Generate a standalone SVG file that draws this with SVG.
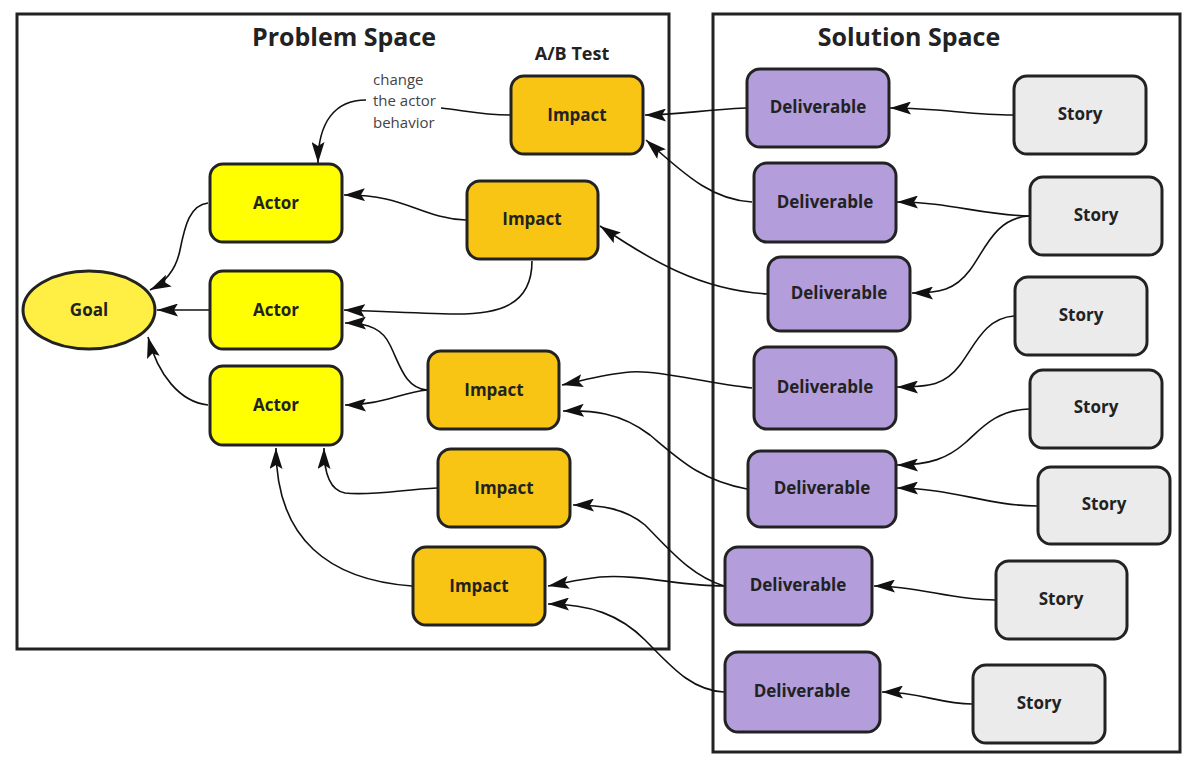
<svg xmlns="http://www.w3.org/2000/svg" width="1200" height="775" viewBox="0 0 1200 775">
<defs>
<style>
.frame{fill:none;stroke:#222;stroke-width:3}
.title{font-family:"Open Sans","Noto Sans","Liberation Sans",sans-serif;font-weight:700;fill:#222;text-anchor:middle}
.node rect,.node ellipse{stroke:#222;stroke-width:3}
.node text{font-family:"Open Sans","Noto Sans","Liberation Sans",sans-serif;font-weight:700;font-size:17px;fill:#222;text-anchor:middle}
.goal{fill:#FFEF45}
.actor{fill:#FFFF00}
.impact{fill:#F9C514}
.deliv{fill:#B39DDB}
.story{fill:#EBEBEB}
.note{font-family:"Open Sans","Noto Sans","Liberation Sans",sans-serif;font-weight:400;font-size:15px;fill:#444}
#connectors path{fill:none;stroke:#111;stroke-width:1.6}
#connectors path.arr{marker-end:url(#arrow)}
</style>
<marker id="arrow" viewBox="0 0 21 13" refX="21" refY="6.5" markerWidth="21" markerHeight="13" markerUnits="userSpaceOnUse" orient="auto">
<path d="M0,0 L21,6.5 L0,13 L4,6.5 Z" fill="#111"/>
</marker>
</defs>
<rect width="1200" height="775" fill="#fff"/>

<g id="problem-space">
<rect class="frame" x="17" y="14" width="652" height="635"/>
<text class="title" x="344" y="46" font-size="25">Problem Space</text>
</g>
<g id="solution-space">
<rect class="frame" x="713" y="14" width="467" height="738"/>
<text class="title" x="909" y="46" font-size="25">Solution Space</text>
</g>
<g id="ab-test-label">
<text class="title" x="572" y="60" font-size="18">A/B Test</text>
</g>

<g id="connectors">
<path d="M510,115 C480,115 462,110 441,108"/>
<path class="arr" d="M366,100 C335,100 318,122 318,163"/>
<path class="arr" d="M466,220 C420,218 405,194 344,195"/>
<path class="arr" d="M532,261 C532,305 500,315 450,314 C410,313 370,311 344,310"/>
<path class="arr" d="M208,203 C190,205 185,225 180,250 C176,270 166,282 150,290"/>
<path class="arr" d="M209,310 L157,310"/>
<path class="arr" d="M208,405 C180,402 158,375 148,337"/>
<path class="arr" d="M427,390 C405,388 400,365 390,345 C383,330 370,323 345,323"/>
<path class="arr" d="M427,390 C400,393 380,405 345,405"/>
<path class="arr" d="M437,488 C400,490 370,496 345,493 C328,490 324,470 324,448"/>
<path class="arr" d="M412,586 C330,580 276,540 276,448"/>
<path class="arr" d="M746,108 C700,110 680,115 645,115"/>
<path class="arr" d="M752,202 C715,200 690,180 646,140"/>
<path class="arr" d="M767,294 C700,290 650,260 600,226"/>
<path class="arr" d="M752,388 C700,382 660,370 630,372 C605,374 585,380 562,385"/>
<path class="arr" d="M747,489 C700,480 680,460 650,435 C620,412 590,410 563,411"/>
<path class="arr" d="M724,586 C690,575 670,550 645,525 C625,508 600,505 573,505"/>
<path class="arr" d="M724,586 C680,586 640,574 600,577 C580,579 565,583 548,586"/>
<path class="arr" d="M724,692 C690,690 670,665 645,640 C620,615 590,604 548,604"/>
<path class="arr" d="M1013,115 C970,115 940,108 890,108"/>
<path class="arr" d="M1029,216 C980,215 950,202 897,202"/>
<path class="arr" d="M1029,216 C995,218 985,250 970,270 C955,290 940,293 912,293"/>
<path class="arr" d="M1014,316 C985,318 975,345 960,365 C945,385 930,387 897,387"/>
<path class="arr" d="M1029,409 C995,410 980,430 965,443 C948,458 930,465 897,465"/>
<path class="arr" d="M1037,506 C990,506 950,488 897,488"/>
<path class="arr" d="M995,600 C950,600 920,586 874,586"/>
<path class="arr" d="M972,704 C940,704 920,692 882,692"/>
</g>

<g id="note">
<text class="note" x="373" y="85">change</text>
<text class="note" x="373" y="106">the actor</text>
<text class="note" x="373" y="128">behavior</text>
</g>

<g id="goal" class="node"><ellipse class="goal" cx="89" cy="310" rx="66" ry="39"/><text x="89" y="316">Goal</text></g>

<g id="actor1" class="node"><rect class="actor" x="210" y="164" width="132" height="78" rx="13"/><text x="276" y="209">Actor</text></g>
<g id="actor2" class="node"><rect class="actor" x="210" y="271" width="132" height="78" rx="13"/><text x="276" y="316">Actor</text></g>
<g id="actor3" class="node"><rect class="actor" x="210" y="366" width="132" height="79" rx="13"/><text x="276" y="411">Actor</text></g>

<g id="impact1" class="node"><rect class="impact" x="511" y="76" width="132" height="78" rx="13"/><text x="577" y="121">Impact</text></g>
<g id="impact2" class="node"><rect class="impact" x="467" y="181" width="131" height="78" rx="13"/><text x="532" y="225">Impact</text></g>
<g id="impact3" class="node"><rect class="impact" x="428" y="351" width="131" height="78" rx="13"/><text x="494" y="396">Impact</text></g>
<g id="impact4" class="node"><rect class="impact" x="438" y="449" width="132" height="78" rx="13"/><text x="504" y="494">Impact</text></g>
<g id="impact5" class="node"><rect class="impact" x="413" y="547" width="132" height="78" rx="13"/><text x="479" y="592">Impact</text></g>

<g id="deliverable1" class="node"><rect class="deliv" x="747" y="69" width="142" height="78" rx="13"/><text x="818" y="113">Deliverable</text></g>
<g id="deliverable2" class="node"><rect class="deliv" x="754" y="163" width="142" height="79" rx="13"/><text x="825" y="208">Deliverable</text></g>
<g id="deliverable3" class="node"><rect class="deliv" x="768" y="257" width="142" height="74" rx="13"/><text x="839" y="299">Deliverable</text></g>
<g id="deliverable4" class="node"><rect class="deliv" x="754" y="347" width="142" height="82" rx="13"/><text x="825" y="393">Deliverable</text></g>
<g id="deliverable5" class="node"><rect class="deliv" x="748" y="451" width="148" height="76" rx="13"/><text x="822" y="494">Deliverable</text></g>
<g id="deliverable6" class="node"><rect class="deliv" x="725" y="547" width="147" height="78" rx="13"/><text x="798" y="591">Deliverable</text></g>
<g id="deliverable7" class="node"><rect class="deliv" x="725" y="652" width="155" height="80" rx="13"/><text x="802" y="697">Deliverable</text></g>

<g id="story1" class="node"><rect class="story" x="1014" y="76" width="132" height="78" rx="13"/><text x="1080" y="120">Story</text></g>
<g id="story2" class="node"><rect class="story" x="1030" y="177" width="132" height="78" rx="13"/><text x="1096" y="221">Story</text></g>
<g id="story3" class="node"><rect class="story" x="1015" y="277" width="132" height="78" rx="13"/><text x="1081" y="321">Story</text></g>
<g id="story4" class="node"><rect class="story" x="1030" y="370" width="132" height="78" rx="13"/><text x="1096" y="413">Story</text></g>
<g id="story5" class="node"><rect class="story" x="1038" y="467" width="132" height="77" rx="13"/><text x="1104" y="510">Story</text></g>
<g id="story6" class="node"><rect class="story" x="996" y="561" width="131" height="78" rx="13"/><text x="1061" y="605">Story</text></g>
<g id="story7" class="node"><rect class="story" x="973" y="665" width="132" height="78" rx="13"/><text x="1039" y="709">Story</text></g>
</svg>
